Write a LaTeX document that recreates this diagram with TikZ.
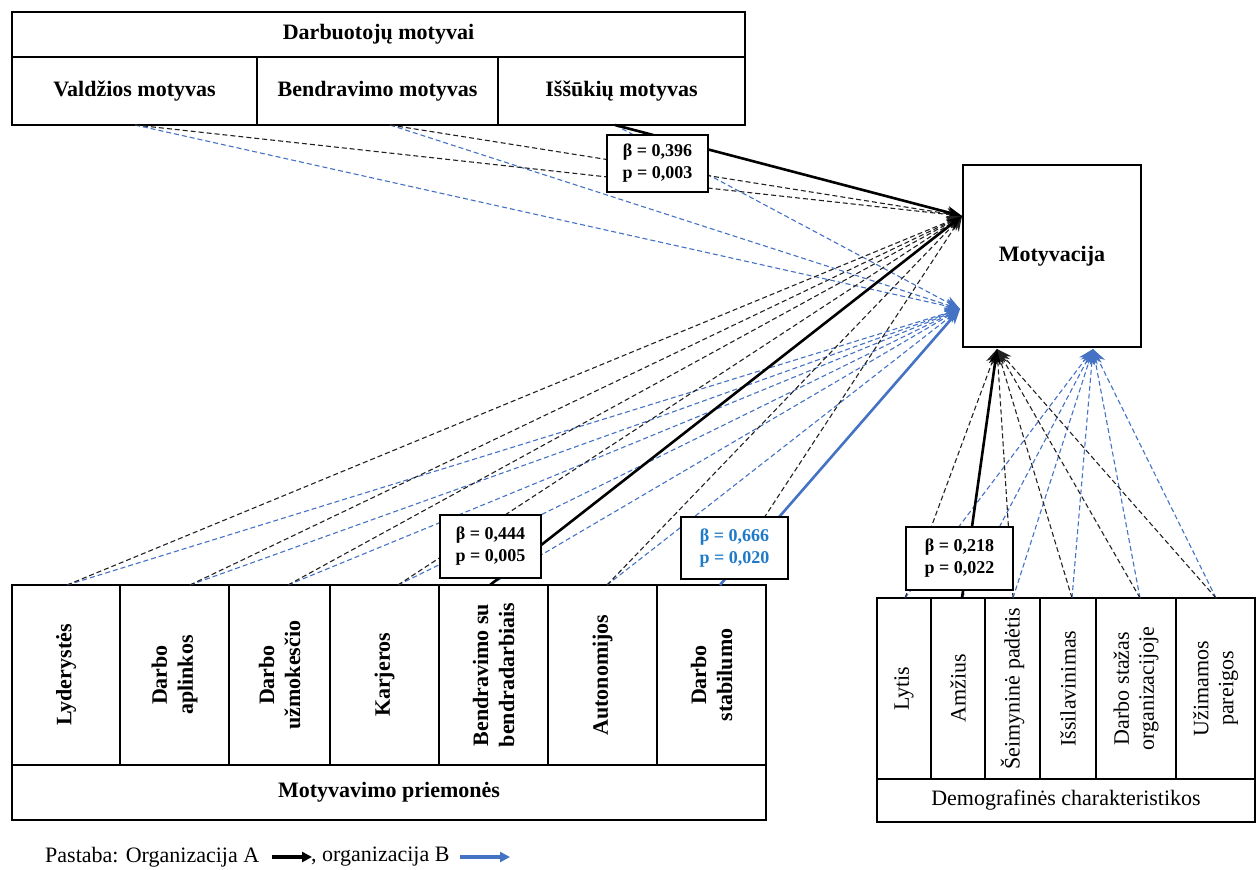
\documentclass[tikz,border=0pt]{standalone}
\usepackage{fontspec}
\setmainfont{Liberation Serif}
\usetikzlibrary{arrows.meta,calc}
\definecolor{orgb}{HTML}{4472C4}
\definecolor{betablue}{HTML}{1F7AC8}
\definecolor{lineA}{HTML}{222222}

\begin{document}
\begin{tikzpicture}[x=1pt,y=-1pt,
  txtbold/.style={font=\fontsize{22}{26}\selectfont\bfseries},
  txtreg/.style={font=\fontsize{22}{25}\selectfont},
  headcell/.style={draw,line width=2.2pt,inner sep=0pt,align=center,txtbold},
  colcell/.style={draw,line width=2.2pt,inner sep=0pt,align=center,rotate=90,txtbold},
  demcell/.style={draw,line width=1.2pt,inner sep=0pt,align=center,rotate=90,txtreg},
  demrow/.style={draw,line width=1.2pt,inner sep=0pt,align=center,txtreg},
  betabox/.style={draw,fill=white,line width=1.2pt,inner sep=0pt,align=center,
    font=\fontsize{18}{22}\selectfont\bfseries},
  tipA/.style={-{Stealth[length=15pt,width=12pt]}},
  adash/.style={draw=lineA,line width=1.1pt,dash pattern=on 5pt off 3pt,tipA},
  bdash/.style={draw=orgb,line width=1.1pt,dash pattern=on 5pt off 3pt,tipA},
  asolid/.style={draw=black,line width=2.6pt,tipA},
  bsolid/.style={draw=orgb,line width=2.6pt,tipA},
  legarrow/.style={line width=3.2pt,-{Triangle[length=10pt,width=10pt]}},
]
\useasboundingbox (0,0) rectangle (1259,870);

% ---- employee motives (top block)
\node[headcell,minimum width=733pt,minimum height=45pt] (motyvai) at (378.5,34.5) {Darbuotojų motyvai};
\node[headcell,minimum width=245pt,minimum height=68pt] (valdz) at (134.5,91) {Valdžios motyvas};
\node[headcell,minimum width=241pt,minimum height=68pt] (bendr) at (377.5,91) {Bendravimo motyvas};
\node[headcell,minimum width=247pt,minimum height=68pt] (issuk) at (621.5,91) {Iššūkių motyvas};

% ---- outcome
\node[draw,line width=2pt,minimum width=178pt,minimum height=182pt,txtbold] (motyv) at (1052,256) {Motyvacija};

% ---- motivation measures (bottom left block)
\node[colcell,minimum width=180pt,minimum height=108pt] (lyd) at (66,675) {Lyderystės};
\node[colcell,minimum width=180pt,minimum height=109pt] (apl) at (174.5,675) {Darbo\\aplinkos};
\node[colcell,minimum width=180pt,minimum height=101pt] (uzm) at (279.5,675) {Darbo\\užmokesčio};
\node[colcell,minimum width=180pt,minimum height=109pt] (karj) at (384.5,675) {Karjeros};
\node[colcell,minimum width=180pt,minimum height=109pt] (bsb) at (493.5,675) {Bendravimo su\\bendradarbiais};
\node[colcell,minimum width=180pt,minimum height=109pt] (auton) at (602.5,675) {Autonomijos};
\node[colcell,minimum width=180pt,minimum height=109pt] (stab) at (711.5,675) {Darbo\\stabilumo};
\node[headcell,minimum width=754pt,minimum height=55pt] (priem) at (389,792.5) {Motyvavimo priemonės};

% ---- demographic characteristics (bottom right block)
\node[demcell,minimum width=181pt,minimum height=54pt] (lytis) at (904,688.5) {Lytis};
\node[demcell,minimum width=181pt,minimum height=54pt] (amz) at (958,688.5) {Amžius};
\node[demcell,minimum width=181pt,minimum height=55pt] (seim) at (1012.5,688.5) {Šeimyninė padėtis};
\node[demcell,minimum width=181pt,minimum height=56pt] (issil) at (1068,688.5) {Išsilavinimas};
\node[demcell,minimum width=181pt,minimum height=80pt] (staz) at (1136,688.5) {Darbo stažas\\organizacijoje};
\node[demcell,minimum width=181pt,minimum height=79pt] (pareig) at (1215.5,688.5) {Užimamos\\pareigos};
\node[demrow,minimum width=378pt,minimum height=43pt] (demo) at (1066,800.5) {Demografinės charakteristikos};

% ---- arrow targets on the outcome box
\coordinate (tA) at (962,216);
\coordinate (tB) at (960,309);
\coordinate (tC) at (997,349);
\coordinate (tD) at (1093,349);

% ---- connector start points on the blocks
\coordinate (sV) at (135,125);
\coordinate (sB) at (390,125);
\coordinate (sI) at (615,125);
\coordinate (s1) at (67,585);
\coordinate (s2) at (190,585);
\coordinate (s3) at (288,585);
\coordinate (s4) at (398,585);
\coordinate (s5) at (490,585);
\coordinate (s6) at (607,585);
\coordinate (s7) at (720,585);
\coordinate (d1) at (905,598);
\coordinate (d2) at (962,598);
\coordinate (d3) at (1013,598);
\coordinate (d4) at (1072,598);
\coordinate (d5) at (1140,598);
\coordinate (d6) at (1216,598);

% motives -> motivation
\draw[bdash] (sV) -- (tB);
\draw[bdash] (sB) -- (tB);
\draw[bdash] (sI) -- (tB);
\draw[adash] (sV) -- (tA);
\draw[adash] (sB) -- (tA);
\draw[asolid] (sI) -- (tA);

% measures -> motivation
\foreach \s in {s1,s2,s3,s4,s5,s6} \draw[bdash] (\s) -- (tB);
\foreach \s in {s1,s2,s3,s4,s6,s7} \draw[adash] (\s) -- (tA);
\draw[asolid] (s5) -- (tA);
\draw[bsolid] (s7) -- (tB);

% demographics -> motivation
\foreach \s in {d1,d2,d3,d4,d5,d6} \draw[bdash] (\s) -- (tD);
\foreach \s in {d1,d3,d4,d5,d6} \draw[adash] (\s) -- (tC);
\draw[asolid] (d2) -- (tC);

% ---- coefficient labels
\node[betabox,minimum width=101pt,minimum height=57pt] (b1) at (657.5,163.5) {β = 0,396\\p = 0,003};
\node[betabox,minimum width=101pt,minimum height=63pt] (b2) at (490.5,546.5) {β = 0,444\\p = 0,005};
\node[betabox,minimum width=107pt,minimum height=62pt,text=betablue] (b3) at (734.5,548) {β = 0,666\\p = 0,020};
\node[betabox,minimum width=107pt,minimum height=63pt] (b4) at (959.5,558.5) {β = 0,218\\p = 0,022};

% ---- legend
\node[txtreg,anchor=west,inner sep=0pt] (leg1) at (45,857) {Pastaba: Organizacija A};
\coordinate (la1) at (272,857);
\coordinate (la2) at (312,857);
\node[txtreg,anchor=west,inner sep=0pt] (leg2) at (311,857) {, organizacija B};
\coordinate (lb1) at (460,857);
\coordinate (lb2) at (510,857);
\draw[legarrow,draw=black,fill=black] (la1) -- (la2);
\draw[legarrow,draw=orgb,fill=orgb] (lb1) -- (lb2);
\end{tikzpicture}
\end{document}
